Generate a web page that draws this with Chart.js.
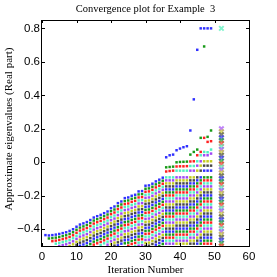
<!DOCTYPE html>
<html>
<head>
<meta charset="utf-8">
<script src="https://cdn.jsdelivr.net/npm/chart.js@4"></script>
<style>
html, body { margin: 0; padding: 0; background: #fff; }
canvas { display: block; }
</style>
</head>
<body>
<canvas id="chart" width="277" height="277"></canvas>
<script>
// Data (eigenvalue estimates in thousandths)
const titleText = 'Convergence plot for Example  3';
const xLabel = 'Iteration Number';
const yLabel = 'Approximate eigenvalues (Real part)';
const xTicks = [0, 10, 20, 30, 40, 50, 60];
const yTicks = [-0.4, -0.2, 0, 0.2, 0.4, 0.6, 0.8];

// dense band of Ritz values for iterations 1..35
const bandValues = [
    [-435],
    [-437, -455],
    [-435, -453, -471],
    [-432, -450, -468, -486],
    [-428, -446, -464, -482, -500],
    [-423, -441, -459, -477, -495],
    [-418, -436, -454, -472, -490],
    [-410, -428, -446, -464, -482, -500],
    [-400, -418, -436, -454, -472, -490],
    [-385, -403, -421, -439, -457, -475, -493],
    [-372, -390, -408, -426, -444, -462, -480, -498],
    [-365, -383, -401, -419, -437, -455, -473, -491],
    [-357, -375, -393, -411, -429, -447, -465, -483, -500],
    [-345, -363, -381, -399, -417, -435, -453, -471, -489],
    [-330, -348, -366, -384, -402, -420, -438, -456, -474, -492],
    [-322, -340, -358, -376, -394, -412, -430, -448, -466, -484],
    [-314, -332, -350, -368, -386, -404, -422, -440, -458, -476, -494],
    [-304, -322, -340, -358, -376, -394, -412, -430, -448, -466, -484],
    [-294, -312, -330, -348, -366, -384, -402, -420, -438, -456, -474, -492],
    [-274, -292, -310, -328, -346, -364, -382, -400, -418, -436, -454, -472, -490],
    [-264, -282, -300, -318, -336, -354, -372, -390, -408, -426, -444, -462, -480, -498],
    [-244, -262, -280, -298, -316, -334, -352, -370, -388, -406, -424, -442, -460, -478, -496],
    [-234, -252, -270, -288, -306, -324, -342, -360, -378, -396, -414, -432, -450, -468, -486],
    [-214, -232, -250, -268, -286, -304, -322, -340, -358, -376, -394, -412, -430, -448, -466, -484],
    [-210, -228, -246, -264, -282, -300, -318, -336, -354, -372, -390, -408, -426, -444, -462, -480, -498],
    [-200, -218, -236, -254, -272, -290, -308, -326, -344, -362, -380, -398, -416, -434, -452, -470, -488],
    [-194, -212, -230, -248, -266, -284, -302, -320, -338, -356, -374, -392, -410, -428, -446, -464, -482, -500],
    [-174, -192, -210, -228, -246, -264, -282, -300, -318, -336, -354, -372, -390, -408, -426, -444, -462, -480, -498],
    [-172, -190, -208, -226, -244, -262, -280, -298, -316, -334, -352, -370, -388, -406, -424, -442, -460, -478, -496],
    [-140, -158, -176, -194, -212, -230, -248, -266, -284, -302, -320, -338, -356, -374, -392, -410, -428, -446, -464, -482, -500],
    [-138, -156, -174, -192, -210, -228, -246, -264, -282, -300, -318, -336, -354, -372, -390, -408, -426, -444, -462, -480, -498],
    [-128, -146, -164, -182, -200, -218, -236, -254, -272, -290, -308, -326, -344, -362, -380, -398, -416, -434, -452, -470, -488],
    [-114, -132, -150, -168, -186, -204, -222, -240, -258, -276, -294, -312, -330, -348, -366, -384, -402, -420, -438, -456, -474, -492],
    [-104, -122, -140, -158, -176, -194, -212, -230, -248, -266, -284, -302, -320, -338, -356, -374, -392, -410, -428, -446, -464, -482, -500],
    [-92, -110, -128, -146, -164, -182, -200, -218, -236, -254, -272, -290, -308, -326, -344, -362, -380, -398, -416, -434, -452, -470, -488]
];

// band is flat from iteration 36 to 49
const lateBand = [-90, -108, -126, -144, -162, -180, -198, -216, -234, -252, -270, -288, -306, -324, -342, -360, -378, -396, -414, -432, -450, -468, -486];
const lastIteration = 49;

// Ritz values that break away above the band
const outlierIters = [36, 37, 38, 39, 40, 41, 42, 43, 44, 45, 46, 47, 48, 49];
const outlierValues = [
    [30, -30, -55],
    [42, -28, -52],
    [46, -26, -50],
    [72, 0, -25, -50],
    [82, 2, -24, -50],
    [90, 3, -24, -50],
    [96, 4, -23, -50],
    [190, 46, 5, -22, -50],
    [376, 62, 6, -22, -50],
    [672, 76, 42, 6, -20, -50],
    [800, 146, 62, 42, 6, -20, -50],
    [800, 692, 146, 62, 42, 6, -20, -50],
    [800, 152, 122, 60, 42, 6, -20, -50],
    [800, 190, 126, 76, 52, 6, -20, -50]
];

// exact eigenvalues, drawn at iteration 52
const exactIteration = 52;
const exactEigs = [800, 200, 182, 165, 147, 130, 112, 95, 77, 60, 42, 25, 7, -10, -28, -45, -63, -80, -98,
    -115, -133, -150, -168, -185, -203, -220, -238, -255, -273, -290, -308, -325, -343, -360, -378,
    -395, -413, -430, -448, -465, -483, -500];

// Colours
const dotColors = ['#3030ff', '#189a18', '#ff2020', '#50f0c0', '#a048f5', '#c4cc20', '#484848'];
const crossColors = ['rgba(60,60,255,0.7)', 'rgba(40,170,40,0.7)', 'rgba(255,50,50,0.7)',
    'rgba(90,240,190,0.75)', 'rgba(165,80,245,0.7)', 'rgba(200,205,50,0.7)', 'rgba(80,80,80,0.7)'];

// Build points
const dotPoints = [];
const dotFill = [];
for (let k = 1; k <= lastIteration; k++) {
    let vals = k <= bandValues.length ? bandValues[k - 1].slice() : lateBand.slice();
    const oi = outlierIters.indexOf(k);
    if (oi >= 0) vals = vals.concat(outlierValues[oi]);
    vals.sort((a, b) => b - a);
    vals.forEach((v, j) => {
        dotPoints.push({ x: k, y: v / 1000 });
        dotFill.push(dotColors[j % dotColors.length]);
    });
}

const crossPoints = exactEigs.map(v => ({ x: exactIteration, y: v / 1000 }));
const crossFill = exactEigs.map((v, j) => crossColors[(j + 3) % crossColors.length]);

const fmt = v => (v < 0 ? '\u2212' : '') + Math.abs(v).toString();

// Frame, inward ticks and texts
const matlabAxes = {
    id: 'matlabAxes',
    afterDraw(chart) {
        const { ctx, chartArea: a, scales } = chart;
        ctx.save();
        ctx.strokeStyle = '#000';
        ctx.lineWidth = 1;
        ctx.beginPath();
        xTicks.forEach(t => {
            const px = Math.round(scales.x.getPixelForValue(t)) + 0.5;
            ctx.moveTo(px, a.bottom); ctx.lineTo(px, a.bottom - 3);
            ctx.moveTo(px, a.top); ctx.lineTo(px, a.top + 3);
        });
        yTicks.forEach(t => {
            const py = Math.round(scales.y.getPixelForValue(t)) + 0.5;
            ctx.moveTo(a.left, py); ctx.lineTo(a.left + 3, py);
            ctx.moveTo(a.right, py); ctx.lineTo(a.right - 3, py);
        });
        ctx.stroke();
        ctx.strokeRect(a.left - 0.5, a.top + 0.5, a.right - a.left + 1, a.bottom - a.top);

        ctx.fillStyle = '#000';
        ctx.textAlign = 'center';
        ctx.textBaseline = 'middle';
        ctx.font = '10.5px "Liberation Serif"';
        ctx.fillText(titleText, (a.left + a.right) / 2, 9);
        ctx.font = '11px "Liberation Serif"';
        ctx.fillText(xLabel, (a.left + a.right) / 2, 270);
        ctx.translate(9, 129);
        ctx.rotate(-Math.PI / 2);
        ctx.fillText(yLabel, 0, 0);
        ctx.restore();
    }
};

new Chart(document.getElementById('chart').getContext('2d'), {
    type: 'scatter',
    data: {
        datasets: [
            {
                data: dotPoints,
                backgroundColor: dotFill,
                pointStyle: 'rect',
                pointRadius: 1.75,
                borderWidth: 0,
                clip: 0
            },
            {
                data: crossPoints,
                borderColor: crossFill,
                backgroundColor: crossFill,
                pointStyle: 'crossRot',
                pointRadius: 3.2,
                pointBorderWidth: 2,
                clip: 0
            }
        ]
    },
    options: {
        responsive: false,
        animation: false,
        devicePixelRatio: 1,
        events: [],
        layout: { padding: { top: 20, right: 28, left: 0, bottom: 0 } },
        plugins: {
            legend: { display: false },
            tooltip: { enabled: false },
            title: { display: false }
        },
        scales: {
            x: {
                type: 'linear',
                min: 0,
                max: 60,
                afterBuildTicks: s => { s.ticks = xTicks.map(v => ({ value: v })); },
                afterFit: s => { s.height = 31; },
                grid: { display: false, drawTicks: false },
                border: { display: false },
                ticks: {
                    padding: 4,
                    color: '#000',
                    maxRotation: 0,
                    font: { family: '"Liberation Sans"', size: 11.5 },
                    callback: v => fmt(v)
                }
            },
            y: {
                type: 'linear',
                min: -0.5,
                max: 0.85,
                afterBuildTicks: s => { s.ticks = yTicks.map(v => ({ value: v })); },
                afterFit: s => { s.width = 42; },
                grid: { display: false, drawTicks: false },
                border: { display: false },
                ticks: {
                    padding: 2,
                    color: '#000',
                    font: { family: '"Liberation Sans"', size: 11.5 },
                    callback: v => fmt(Math.round(v * 10) / 10)
                }
            }
        }
    },
    plugins: [matlabAxes]
});
</script>
</body>
</html>
